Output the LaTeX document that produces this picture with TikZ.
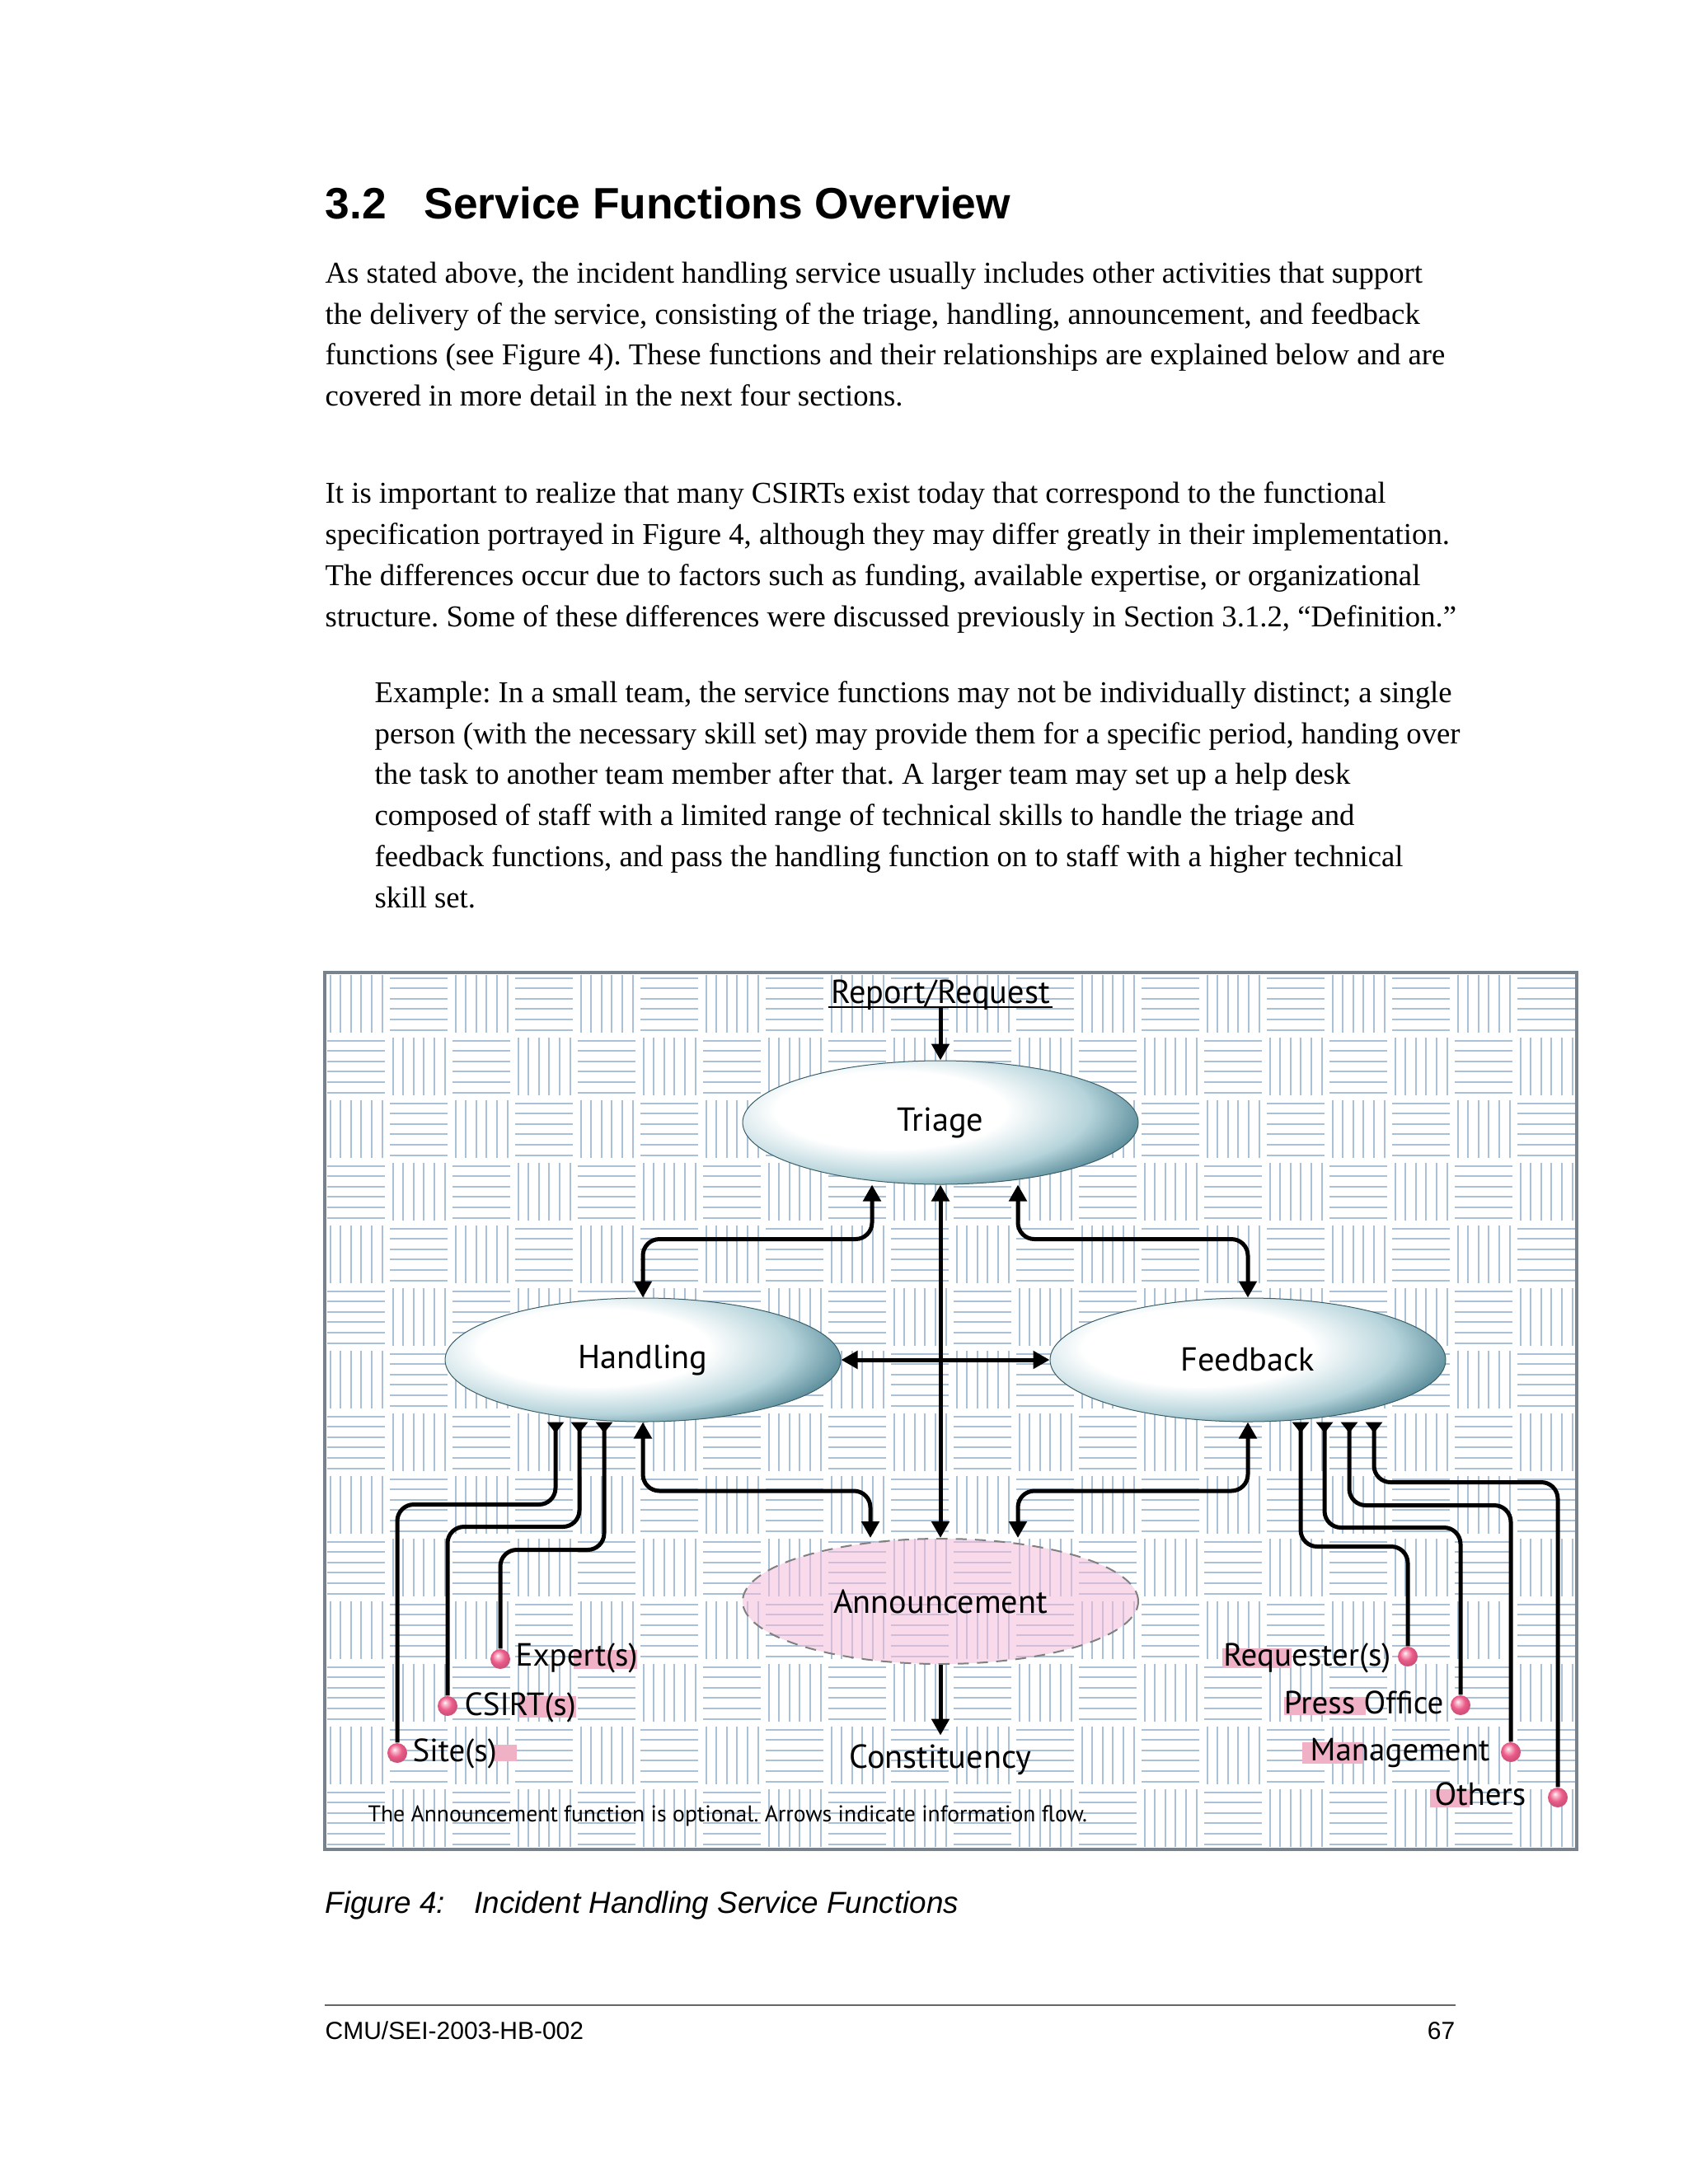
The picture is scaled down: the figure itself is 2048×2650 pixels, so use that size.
\documentclass[tikz,border=0pt]{standalone}
\usepackage{fontspec}
\setmainfont{Liberation Serif}
\newfontfamily\hsans{Liberation Sans}
\newfontfamily\dsans{PT Sans}
\usetikzlibrary{arrows.meta,shapes.geometric,calc}
\frenchspacing
\definecolor{hatch}{RGB}{170,192,214}
\definecolor{ellteal}{RGB}{84,136,150}
\definecolor{ellmid}{RGB}{182,212,219}
\definecolor{hlpink}{RGB}{240,176,198}
\definecolor{ballpink}{RGB}{236,92,138}
\definecolor{balllight}{RGB}{250,200,215}
\definecolor{annpink}{RGB}{244,188,218}
\definecolor{framegray}{RGB}{120,130,140}
\pgfdeclareradialshading{ellshade}{\pgfpoint{0bp}{0bp}}{color(0bp)=(white); color(11bp)=(white); color(19bp)=(ellmid); color(25bp)=(ellteal); color(50bp)=(ellteal)}
\pgfdeclareradialshading{pinkball}{\pgfpoint{-7bp}{9bp}}{color(0bp)=(white); color(4bp)=(balllight); color(16bp)=(ballpink); color(25bp)=(ballpink!88!black); color(50bp)=(ballpink!88!black)}
\tikzset{
  fn/.style={ellipse, draw=ellteal!70!black, line width=0.3pt, fill=ellteal,
    minimum width=144pt, minimum height=45pt, inner sep=0pt,
    font=\dsans\fontsize{12.1pt}{14pt}\selectfont,
    path picture={\shade[shading=ellshade] ([xshift=-18pt,yshift=4.5pt]path picture bounding box.center) ellipse (95pt and 32pt);}},
  annst/.style={ellipse, minimum width=144pt, minimum height=45.6pt, inner sep=0pt,
    fill=annpink, fill opacity=0.55, text opacity=1, draw=gray,
    dash pattern=on 4pt off 3pt, line width=0.6pt,
    font=\dsans\fontsize{12.1pt}{14pt}\selectfont},
  lbl/.style={font=\dsans\fontsize{12.1pt}{14pt}\selectfont, inner sep=0pt},
  slbl/.style={font=\dsans\fontsize{11.7pt}{14pt}\selectfont, inner sep=0pt},
  ball/.style={circle, minimum size=7.2pt, inner sep=0pt, shading=pinkball},
  hl/.style={fill=hlpink},
  conn/.style={line width=1.5pt, rounded corners=6pt},
  arr/.style={conn, -{Triangle[width=6.3pt,length=6pt]}},
  darr/.style={conn, {Triangle[width=6.3pt,length=6pt]}-{Triangle[width=6.3pt,length=6pt]}},
  srcarr/.style={conn, -{Triangle[reversed,width=6pt,length=4pt]}},
  body/.style={anchor=base west, inner sep=0pt, font=\fontsize{11.02pt}{13pt}\selectfont},
}
\begin{document}
\begin{tikzpicture}[x=0.3pt,y=-0.3pt]
\useasboundingbox (0,0) rectangle (2048,2650);
\fill[white] (0,0) rectangle (2048,2650);

% heading
\node[anchor=base west, inner sep=0pt, font=\hsans\bfseries\fontsize{16pt}{19pt}\selectfont] (hnum) at (394,265) {3.2};
\node[anchor=base west, inner sep=0pt, font=\hsans\bfseries\fontsize{16pt}{19pt}\selectfont] (htitle) at (514,265) {Service Functions Overview};

% paragraph 1
\node[body] (p1a) at (394,343) {As stated above, the incident handling service usually includes other activities that support};
\node[body] (p1b) at (394,393) {the delivery of the service, consisting of the triage, handling, announcement, and feedback};
\node[body] (p1c) at (394,442) {functions (see Figure 4). These functions and their relationships are explained below and are};
\node[body] (p1d) at (394,492) {covered in more detail in the next four sections.};
% paragraph 2
\node[body] (p2a) at (394,610) {It is important to realize that many CSIRTs exist today that correspond to the functional};
\node[body] (p2b) at (394,660) {specification portrayed in Figure 4, although they may differ greatly in their implementation.};
\node[body] (p2c) at (394,710) {The differences occur due to factors such as funding, available expertise, or organizational};
\node[body] (p2d) at (394,760) {structure. Some of these differences were discussed previously in Section 3.1.2, “Definition.”};
% example
\node[body] (exa) at (454,852) {Example: In a small team, the service functions may not be individually distinct; a single};
\node[body] (exb) at (454,902) {person (with the necessary skill set) may provide them for a specific period, handing over};
\node[body] (exc) at (454,951) {the task to another team member after that. A larger team may set up a help desk};
\node[body] (exd) at (454,1001) {composed of staff with a limited range of technical skills to handle the triage and};
\node[body] (exe) at (454,1051) {feedback functions, and pass the handling function on to staff with a higher technical};
\node[body] (exf) at (454,1101) {skill set.};

% ---------- figure background (basket weave) ----------
\begin{scope}
\clip (394,1180) rectangle (1913,2244);
\fill[white] (394,1180) rectangle (1913,2244);
\foreach \i in {0,...,19}{
  \foreach \j in {0,...,13}{
    \pgfmathtruncatemacro\kk{mod(\i+\j,2)}
    \ifnum\kk=0
      \foreach \s in {0,...,5}
        \draw[hatch, line width=0.6pt] ({394+76*\i+6.5+12.6*\s},{1180+76*\j+3}) -- ++(0,70);
    \else
      \foreach \s in {0,...,5}
        \draw[hatch, line width=0.6pt] ({394+76*\i+3},{1180+76*\j+6.5+12.6*\s}) -- ++(70,0);
    \fi
  }
}
\end{scope}
\draw[framegray, line width=1pt] (394,1180) rectangle (1913,2244);

% ---------- function nodes ----------
\node[fn] (triage) at (1141,1362) {Triage};
\node[fn] (handling) at (780,1650) {Handling};
\node[fn] (feedback) at (1514,1650) {Feedback};
\node[annst] (ann) at (1141,1943) {Announcement};

\node[lbl, anchor=base] (rep) at (1141,1217) {Report/Request};
\draw[line width=0.45pt] ($(rep.base west)+(-3,5)$) -- ($(rep.base east)+(3,5)$);
\node[lbl, anchor=base, inner ysep=3pt] (const) at (1141,2145) {Constituency};

% ---------- main connectors ----------
\draw[arr] ($(rep.base)+(0,5)$) -- (triage.north);
\draw[darr] ($(triage.south)+(-83,0)$) |- ($(handling.north)+(0,-71)$) -- (handling.north);
\draw[darr] ($(triage.south)+(94,0)$) |- ($(feedback.north)+(0,-71)$) -- (feedback.north);
\draw[darr] (handling.east) -- (feedback.west);
\draw[darr] (triage.south) -- (ann.north);
\draw[darr] (handling.south) |- ($(ann.north)+(-85,-57)$) -- ($(ann.north)+(-85,0)$);
\draw[darr] (feedback.south) |- ($(ann.north)+(94,-57)$) -- ($(ann.north)+(94,0)$);
\draw[arr] (ann.south) -- (const.north);

% ---------- left sources ----------
\fill[hl] (696,2002) rectangle (773,2025);
\fill[hl] (630,2058) rectangle (699,2084);
\fill[hl] (599,2117) rectangle (627,2137);
\node[ball] (site) at (482,2127) {};
\node[ball] (csirt) at (543,2070) {};
\node[ball] (expert) at (607,2013) {};
\node[slbl, anchor=base west] (expertl) at (625,2021) {Expert(s)};
\node[slbl, anchor=base west] (csirtl) at (563,2081) {CSIRT(s)};
\node[slbl, anchor=base west] (sitel) at (500,2137) {Site(s)};
\draw[srcarr] (site) |- ($(handling.south)+(-106,100)$) -- ($(handling.south)+(-106,0)$);
\draw[srcarr] (csirt) |- ($(handling.south)+(-77,127)$) -- ($(handling.south)+(-77,0)$);
\draw[srcarr] (expert) |- ($(handling.south)+(-47,155)$) -- ($(handling.south)+(-47,0)$);

% ---------- right sources ----------
\fill[hl] (1483,2000) rectangle (1567,2024);
\fill[hl] (1558,2059) rectangle (1657,2081);
\fill[hl] (1580,2114) rectangle (1653,2140);
\fill[hl] (1735,2171) rectangle (1783,2193);
\node[ball] (req) at (1708,2010) {};
\node[ball] (press) at (1772,2069) {};
\node[ball] (mgmt) at (1833,2126) {};
\node[ball] (others) at (1890,2181) {};
\node[slbl, anchor=base east] (reql) at (1688,2021) {Requester(s)};
\node[slbl, anchor=base east] (pressl) at (1752,2079) {Press Office};
\node[slbl, anchor=base east] (mgmtl) at (1808,2136) {Management};
\node[slbl, anchor=base east] (othersl) at (1852,2190) {Others};
\draw[srcarr] (req) |- ($(feedback.south)+(64,151)$) -- ($(feedback.south)+(64,0)$);
\draw[srcarr] (press) |- ($(feedback.south)+(93,128)$) -- ($(feedback.south)+(93,0)$);
\draw[srcarr] (mgmt) |- ($(feedback.south)+(123,101)$) -- ($(feedback.south)+(123,0)$);
\draw[srcarr] (others) |- ($(feedback.south)+(153,73)$) -- ($(feedback.south)+(153,0)$);

\node[anchor=base west, inner sep=0pt, font=\dsans\fontsize{8.3pt}{10pt}\selectfont] (note) at (446,2210) {The Announcement function is optional. Arrows indicate information flow.};

% ---------- caption and footer ----------
\node[anchor=base west, inner sep=0pt, font=\hsans\itshape\fontsize{11.05pt}{13pt}\selectfont] (capnum) at (394,2321) {Figure 4:};
\node[anchor=base west, inner sep=0pt, font=\hsans\itshape\fontsize{11.05pt}{13pt}\selectfont] (captxt) at (575,2321) {Incident Handling Service Functions};
\draw[gray!80!black, line width=0.6pt] (394,2433) -- (1766,2433);
\node[anchor=base west, inner sep=0pt, font=\hsans\fontsize{9pt}{11pt}\selectfont] (foot) at (394,2474) {CMU/SEI-2003-HB-002};
\node[anchor=base east, inner sep=0pt, font=\hsans\fontsize{9pt}{11pt}\selectfont] (page) at (1766,2474) {67};
\end{tikzpicture}
\end{document}
